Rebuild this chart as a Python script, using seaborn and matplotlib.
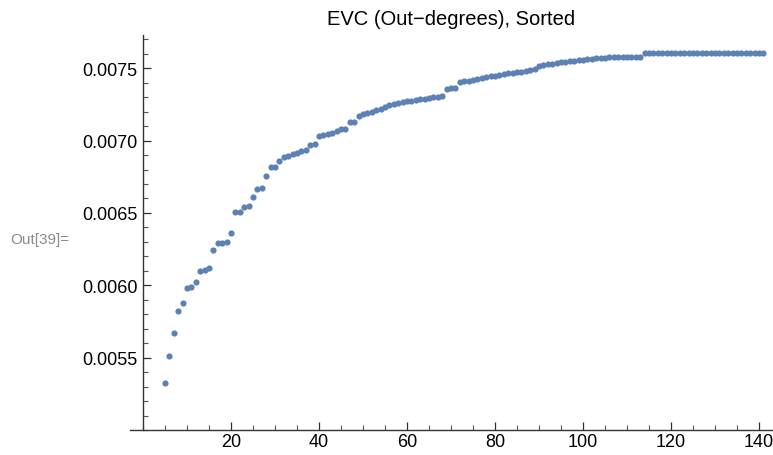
import numpy as np
import pandas as pd
import seaborn as sns
import matplotlib.pyplot as plt
from matplotlib.ticker import MultipleLocator, FormatStrFormatter

# rank positions (sorted order) and out-degree eigenvector centrality values
rank = list(range(5, 142))
evc = [
    0.005327, 0.005509, 0.005668, 0.005825, 0.005878, 0.005982, 0.005991, 0.006021,
    0.006102, 0.006106, 0.006120, 0.006247, 0.006289, 0.006293, 0.006298, 0.006365,
    0.006508, 0.006510, 0.006540, 0.006545, 0.006609, 0.006665, 0.006672, 0.006753,
    0.006819, 0.006819, 0.006861, 0.006886, 0.006891, 0.006907, 0.006917, 0.006928,
    0.006938, 0.006969, 0.006976, 0.007034, 0.007042, 0.007049, 0.007056, 0.007066,
    0.007077, 0.007080, 0.007126, 0.007128, 0.007173, 0.007184, 0.007194, 0.007201,
    0.007211, 0.007218, 0.007232, 0.007246, 0.007256, 0.007261, 0.007267, 0.007272,
    0.007276, 0.007281, 0.007285, 0.007290, 0.007294, 0.007299, 0.007304, 0.007306,
    0.007360, 0.007364, 0.007367, 0.007403, 0.007409, 0.007413, 0.007419, 0.007426,
    0.007436, 0.007440, 0.007447, 0.007450, 0.007454, 0.007461, 0.007464, 0.007467,
    0.007471, 0.007474, 0.007481, 0.007488, 0.007495, 0.007519, 0.007526, 0.007530,
    0.007533, 0.007537, 0.007540, 0.007544, 0.007547, 0.007551, 0.007554, 0.007557,
    0.007561, 0.007564, 0.007570, 0.007574, 0.007574, 0.007575, 0.007575, 0.007575,
    0.007575, 0.007576, 0.007576, 0.007576, 0.007576, 0.007604, 0.007604, 0.007604,
    0.007604, 0.007604, 0.007604, 0.007604, 0.007604, 0.007604, 0.007604, 0.007604,
    0.007604, 0.007604, 0.007604, 0.007604, 0.007604, 0.007604, 0.007604, 0.007604,
    0.007604, 0.007604, 0.007604, 0.007604, 0.007604, 0.007604, 0.007604, 0.007604,
    0.007604,
]
x_ticks = [20, 40, 60, 80, 100, 120, 140]
y_ticks = [0.0055, 0.0060, 0.0065, 0.0070, 0.0075]

df = pd.DataFrame({'rank': rank, 'evc': evc})

sns.set_style('ticks')
plt.rcParams['font.family'] = ['Liberation Sans', 'DejaVu Sans']

fig = plt.figure(figsize=(7.73, 4.56), dpi=100)
ax = fig.add_axes([130 / 773, 25 / 456, 643 / 773, 395 / 456])

sns.scatterplot(data=df, x='rank', y='evc', ax=ax, color='#5E81B5',
                s=20, linewidth=0, legend=False, clip_on=False)

ax.set_xlim(-2.95, 143.2)
ax.set_ylim(0.005, 0.00773)

# axes like mathematica: y axis sits at x=0
ax.spines['left'].set_position(('data', 0))
ax.spines['top'].set_visible(False)
ax.spines['right'].set_visible(False)
for s in ['left', 'bottom']:
    ax.spines[s].set_color('#333333')
    ax.spines[s].set_linewidth(1.0)

ax.set_xticks(x_ticks)
ax.set_yticks(y_ticks)
ax.xaxis.set_minor_locator(MultipleLocator(5))
ax.yaxis.set_minor_locator(MultipleLocator(0.0001))
ax.yaxis.set_major_formatter(FormatStrFormatter('%.4f'))

ax.tick_params(which='major', direction='in', length=6, width=0.9,
               color='#333333', labelsize=13, labelcolor='black')
ax.tick_params(which='minor', direction='in', length=3.5, width=0.8,
               color='#555555')
ax.tick_params(axis='x', pad=2)
ax.tick_params(axis='y', pad=4)

ax.set_xlabel('')
ax.set_ylabel('')
ax.set_title('EVC (Out−degrees), Sorted', fontsize=14.5, pad=8, color='black')

fig.text(10 / 773, 1 - 240 / 456, 'Out[39]=', fontsize=11, color='#8a8a8a',
         va='center', ha='left')

fig.savefig('out.png', dpi=100)
